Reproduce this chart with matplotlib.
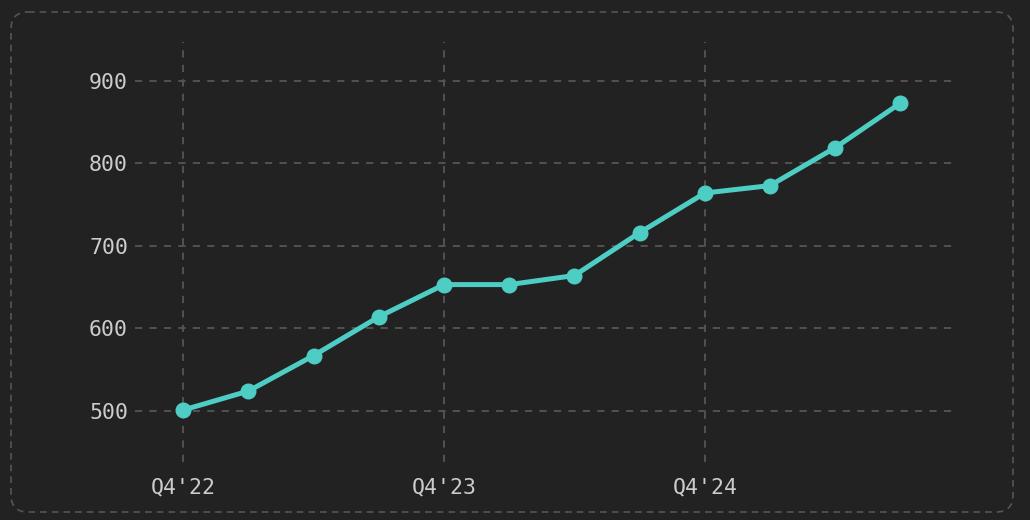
"""Quarterly line chart on a dark card with dashed border."""

import matplotlib
matplotlib.use("Agg")
import matplotlib.pyplot as plt
import matplotlib.patches as mpatches

plt.rcParams["font.family"] = ["DejaVu Sans Mono", "DejaVu Sans"]

QUARTERS = ["Q4'22", "Q1'23", "Q2'23", "Q3'23", "Q4'23", "Q1'24",
            "Q2'24", "Q3'24", "Q4'24", "Q1'25", "Q2'25", "Q3'25"]
VALUES = [501, 524, 567, 614, 653, 653, 664, 716, 764, 773, 819, 873]
Y_TICKS = [500, 600, 700, 800, 900]
X_TICK_LABELS = ["Q4'22", "Q4'23", "Q4'24"]

BG = "#222222"
LINE = "#4ecdc4"
GRID = "#555555"
TEXT = "#cccccc"


def draw() -> None:
    fig = plt.figure(figsize=(10.3, 5.2), dpi=100, facecolor=BG)

    # 背景卡片层（像素坐标）
    bg_ax = fig.add_axes([0, 0, 1, 1])
    bg_ax.set_xlim(0, 1030)
    bg_ax.set_ylim(520, 0)
    bg_ax.axis("off")
    card = mpatches.FancyBboxPatch(
        (11, 12), 1002, 500,
        boxstyle="round,pad=0,rounding_size=17",
        facecolor="none", edgecolor="#555555", lw=1.2, ls=(0, (4, 3)),
    )
    bg_ax.add_patch(card)

    ax = fig.add_axes([135 / 1030, 1 - 462 / 520, (952 - 135) / 1030, (462 - 42) / 520])
    ax.set_facecolor("none")

    xs = list(range(len(QUARTERS)))
    ax.plot(xs, VALUES, color=LINE, lw=3.6, marker="o", ms=10.5, zorder=3)

    ax.set_xlim(-0.74, 11.79)
    ax.set_ylim(438, 947)
    ax.set_yticks(Y_TICKS)
    ax.set_xticks([QUARTERS.index(q) for q in X_TICK_LABELS])
    ax.set_xticklabels(X_TICK_LABELS)

    ax.grid(True, color=GRID, ls=(0, (4, 4)), lw=1.3)
    ax.set_axisbelow(True)
    for s in ax.spines.values():
        s.set_visible(False)
    ax.tick_params(length=0, colors=TEXT, labelsize=15.5)
    ax.tick_params(axis="x", pad=11)
    ax.tick_params(axis="y", pad=5)

    fig.savefig("out.png", dpi=100, facecolor=BG)


if __name__ == "__main__":
    draw()
